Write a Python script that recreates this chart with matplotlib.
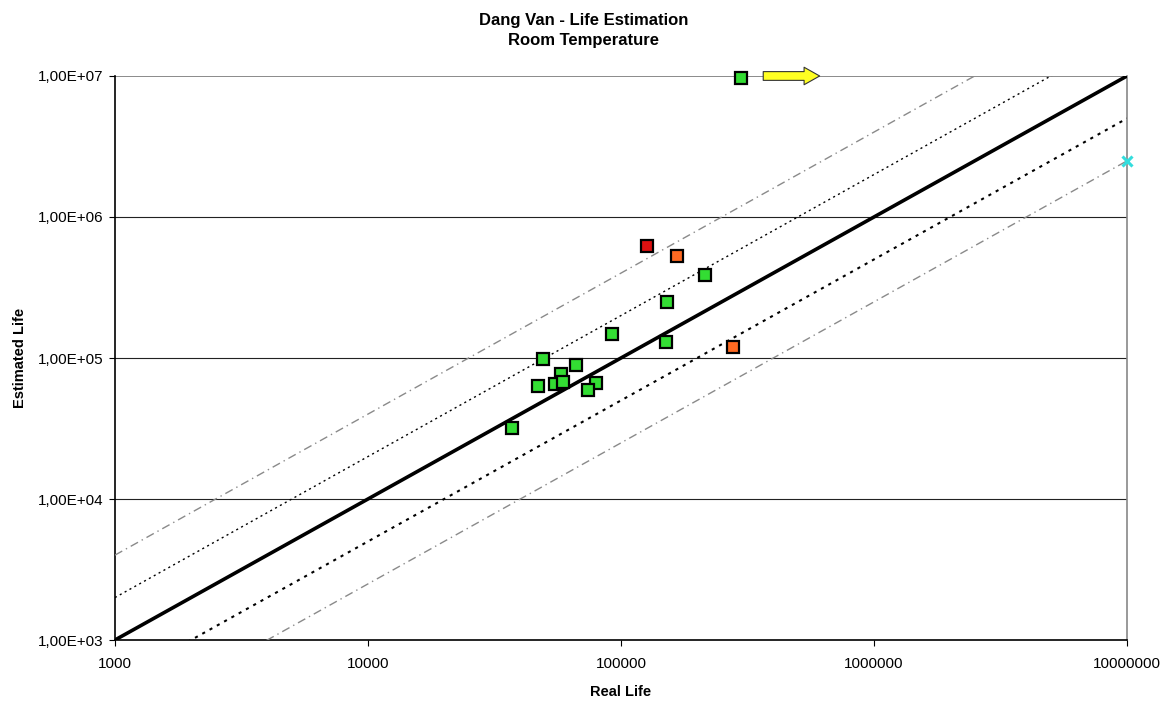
import matplotlib.pyplot as plt
import numpy as np

plt.rcParams['font.family'] = ['Liberation Sans', 'DejaVu Sans']

# real life vs estimated life (cycles)
green_real = [298000, 215000, 152000, 92400, 150500, 49000, 66200, 58100,
              54700, 59200, 46900, 79700, 74300, 37200]
green_est = [9.6e6, 388000, 250000, 149000, 129000, 98900, 88800, 76600,
             65800, 67900, 63300, 66800, 59300, 32000]
orange_real = [166000, 278000]
orange_est = [526000, 120000]
red_real = [127000]
red_est = [627000]
runout_real = [1e7]
runout_est = [2.5e6]

# scatter band factors around the 1:1 line
factors = [4, 2, 1, 0.5, 0.25]
arrow_x = [365000, 610000]
arrow_y = 1e7

xlim = (1e3, 1e7)
ylim = (1e3, 1e7)

fig = plt.figure(figsize=(11.67, 7.01), dpi=100)
ax = fig.add_axes([0.0985, 0.087, 0.8672, 0.8046])
ax.set_xscale('log')
ax.set_yscale('log')
ax.set_xlim(*xlim)
ax.set_ylim(*ylim)

xx = np.array(xlim)
for f in factors:
    if f == 1:
        ax.plot(xx, xx * f, color='black', lw=2.6, zorder=3)
    elif f in (2, 0.5):
        ax.plot(xx, xx * f, color='black', lw=1.0 if f > 1 else 1.5,
                ls=(0, (1.5, 2.5)), zorder=3)
    else:
        ax.plot(xx, xx * f, color='#8a8a8a', lw=1.0,
                ls=(0, (6, 3, 1, 3)), zorder=3)

for yv in [1e4, 1e5, 1e6]:
    ax.axhline(yv, color='#222222', lw=0.8, zorder=1)
ax.axhline(1e7, color='#777777', lw=1.2, zorder=1)

mk = dict(marker='s', ms=8, mec='black', mew=1.6, ls='none', zorder=5, clip_on=False)
ax.plot(green_real, green_est, mfc='#33dd33', **mk)
ax.plot(orange_real, orange_est, mfc='#ff6a22', **mk)
ax.plot(red_real, red_est, mfc='#dd1111', **mk)
ax.plot(runout_real, runout_est, marker='x', ms=7, mew=2.2, color='#33dddd',
        ls='none', zorder=6, clip_on=False)

ax.annotate('', xy=(arrow_x[1], arrow_y), xytext=(arrow_x[0], arrow_y),
            arrowprops=dict(arrowstyle='simple,head_length=0.8,head_width=0.9,tail_width=0.45',
                            fc='#ffff22', ec='#333333', lw=0.8, mutation_scale=14,
                            shrinkA=0, shrinkB=0),
            annotation_clip=False, zorder=6)

ax.spines['left'].set_color('black')
ax.spines['bottom'].set_color('black')
ax.spines['left'].set_linewidth(1.2)
ax.spines['bottom'].set_linewidth(1.2)
ax.spines['top'].set_visible(False)
ax.spines['right'].set_color('#888888')
ax.spines['right'].set_linewidth(1.2)

xt = [1e3, 1e4, 1e5, 1e6, 1e7]
ax.set_xticks(xt)
ax.set_xticklabels(['1000', '10000', '100000', '1000000', '10000000'])
ax.set_yticks(xt)
ax.set_yticklabels(['1,00E+03', '1,00E+04', '1,00E+05', '1,00E+06', '1,00E+07'])
ax.minorticks_off()
ax.tick_params(axis='x', labelsize=11, length=4, direction='out', pad=8)
ax.tick_params(axis='y', labelsize=11, length=4, direction='out', pad=4)

ax.set_xlabel('Real Life', fontsize=10.5, fontweight='bold', labelpad=10)
ax.set_ylabel('Estimated Life', fontsize=10.5, fontweight='bold', labelpad=8)
fig.suptitle('Dang Van - Life Estimation\nRoom Temperature', fontsize=12,
             fontweight='bold', y=0.982, linespacing=1.45)

plt.savefig('out.png', dpi=100)
